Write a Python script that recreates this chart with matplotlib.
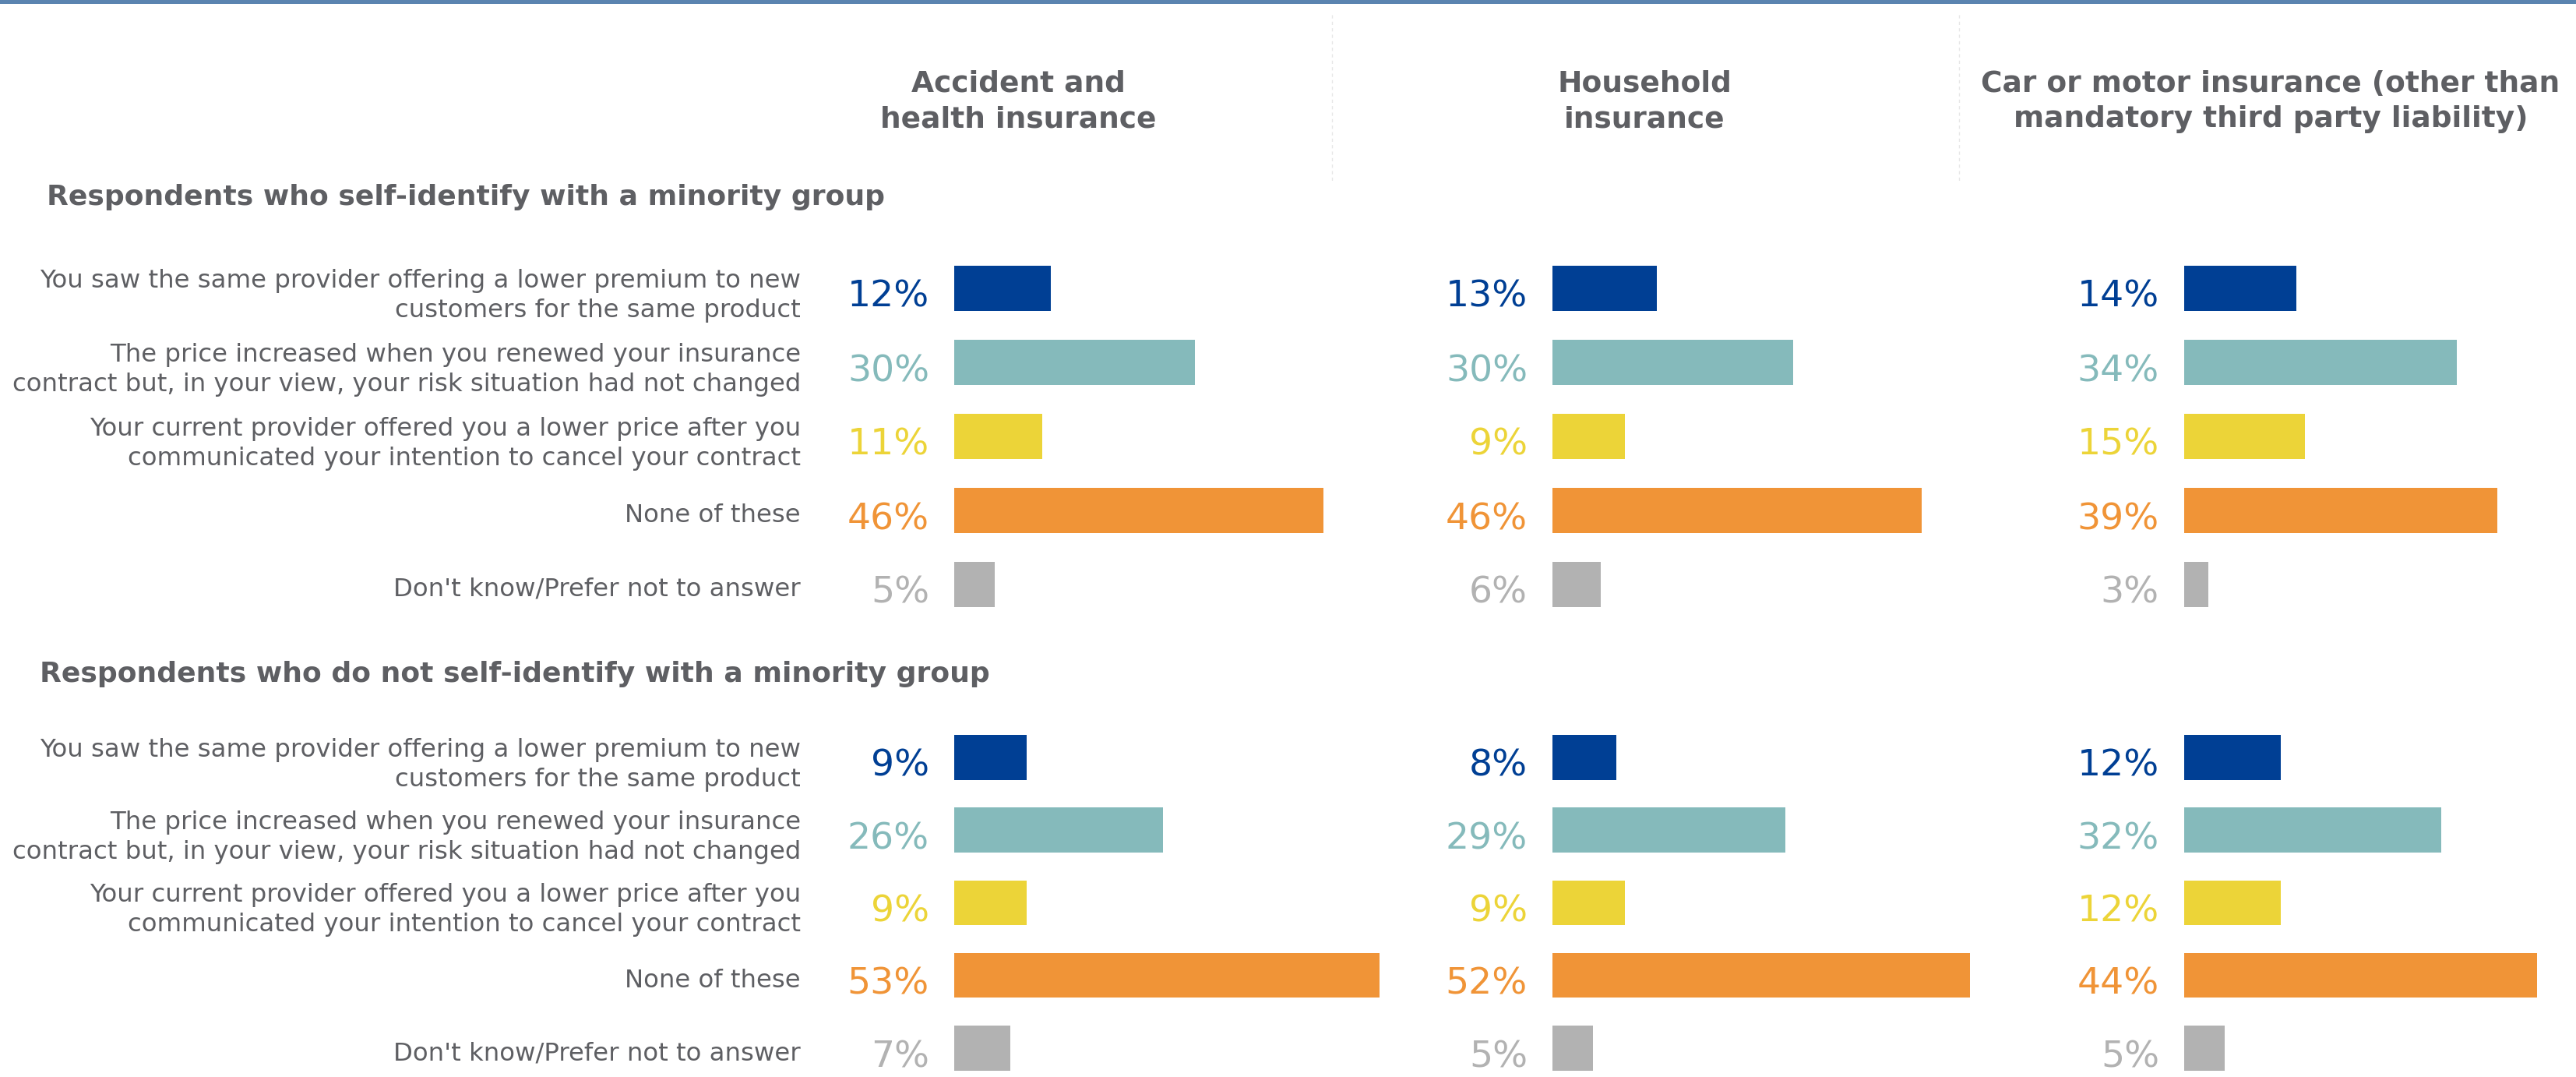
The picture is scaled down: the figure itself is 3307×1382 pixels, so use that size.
import matplotlib
matplotlib.use("Agg")
import matplotlib.pyplot as plt
from matplotlib.lines import Line2D
from matplotlib.patches import Rectangle

# ---- data -------------------------------------------------------------
products = [
    "Accident and\nhealth insurance",
    "Household\ninsurance",
    "Car or motor insurance (other than\nmandatory third party liability)",
]
groups = [
    "Respondents who self-identify with a minority group",
    "Respondents who do not self-identify with a minority group",
]
answers = [
    "You saw the same provider offering a lower premium to new\ncustomers for the same product",
    "The price increased when you renewed your insurance\ncontract but, in your view, your risk situation had not changed",
    "Your current provider offered you a lower price after you\ncommunicated your intention to cancel your contract",
    "None of these",
    "Don't know/Prefer not to answer",
]

minority_accident = [12, 30, 11, 46, 5]
minority_household = [13, 30, 9, 46, 6]
minority_car = [14, 34, 15, 39, 3]
non_minority_accident = [9, 26, 9, 53, 7]
non_minority_household = [8, 29, 9, 52, 5]
non_minority_car = [12, 32, 12, 44, 5]

values = [
    [minority_accident, minority_household, minority_car],
    [non_minority_accident, non_minority_household, non_minority_car],
]

answer_colors = ["#003F94", "#85BABB", "#ECD438", "#F09437", "#B2B2B2"]
text_color = "#5E5F63"

# ---- layout (pixels of a 3307 x 1382 canvas) --------------------------
W, H = 3307, 1382
fig = plt.figure(figsize=(W / 100, H / 100), dpi=100)
fig.patch.set_facecolor("white")


def fx(px):
    return px / W


def fy(py):
    return 1 - py / H


plt.rcParams["font.family"] = ["DejaVu Sans"]

bar_left = [1225, 1993, 2804]          # x where each column's bars start
header_x = [1307, 2111, 2915]          # centre of each column header
px_per_pct = 10.3
axes_width = 560
row_top = [(370, 750), (972, 1345)]    # first / last row centre of each group
bar_px = 57.5
title_baseline = [263, 875]
title_x = [60, 51]

# top rule
fig.add_artist(Rectangle((0, fy(5)), 1, 5 / H, transform=fig.transFigure,
                         facecolor="#5B84B0", edgecolor="none"))

# faint column separators in the header area
for sx in (1710, 2515):
    fig.add_artist(Line2D([fx(sx), fx(sx)], [fy(19), fy(232)],
                          transform=fig.transFigure, color="#E6E6E6",
                          lw=1, ls=(0, (3, 3))))

# column headers
for cx, name in zip(header_x, products):
    for k, line in enumerate(name.split("\n")):
        fig.text(fx(cx), fy(118 + 45 * k), line, ha="center", va="baseline",
                 fontsize=27, fontweight="bold", color=text_color)

for g in range(2):
    c0, c4 = row_top[g]
    step = (c4 - c0) / 4
    top_px = c0 - step / 2
    bottom_px = c4 + step / 2
    fig.text(fx(title_x[g]), fy(title_baseline[g]), groups[g], ha="left",
             va="baseline", fontsize=26, fontweight="bold", color=text_color)

    for col in range(3):
        ax = fig.add_axes([fx(bar_left[col]), fy(bottom_px),
                           fx(axes_width), (bottom_px - top_px) / H])
        ax.set_xlim(0, axes_width / px_per_pct)
        ax.set_ylim(len(answers) - 0.5, -0.5)
        ax.axis("off")
        vals = values[g][col]
        ax.barh(range(len(vals)), vals, height=bar_px / step,
                color=answer_colors, edgecolor="none")
        for i, v in enumerate(vals):
            ax.annotate(f"{v}%", xy=(0, i), xytext=(-32, -24),
                        textcoords="offset pixels", ha="right",
                        va="baseline", fontsize=34, color=answer_colors[i],
                        annotation_clip=False)

        if col == 0:
            for i, label in enumerate(answers):
                lines = label.split("\n")
                offsets = [1, -37] if len(lines) == 2 else [-15]
                for line, dy in zip(lines, offsets):
                    ax.annotate(line, xy=(0, i),
                                xytext=(1028 - bar_left[0], dy),
                                textcoords="offset pixels", ha="right",
                                va="baseline", fontsize=23.3,
                                color=text_color, annotation_clip=False)

fig.savefig("out.png", dpi=100, facecolor="white")
